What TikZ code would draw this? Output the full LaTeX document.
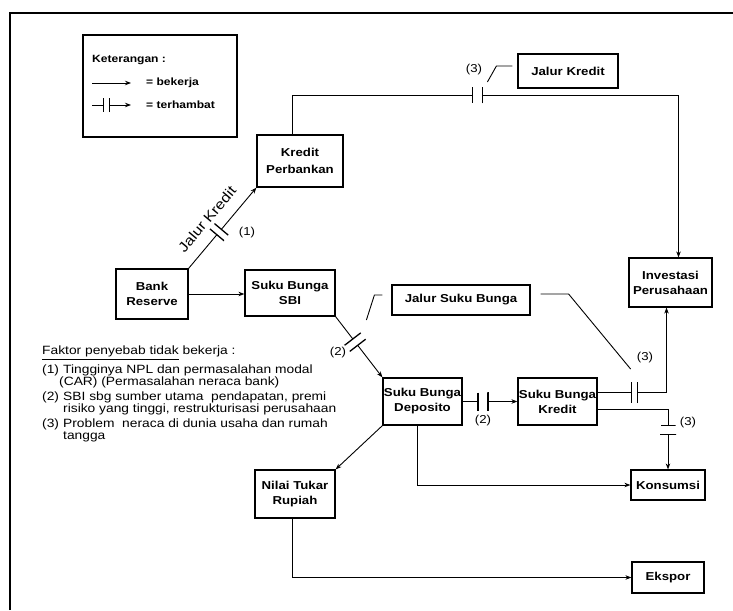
\documentclass[tikz,border=0pt]{standalone}
\usepackage{fontspec}
\setmainfont{Liberation Sans}[FakeStretch=1.15]
\usetikzlibrary{calc, arrows.meta, positioning}

\newcommand\kotak[6]{%
    \node (#1) [kotak, minimum width=#4pt, minimum height=#5pt] at (#2,#3) {#6};
}
\newcommand\nomor[3]{%
    \node (#1) [inner sep=0] at (#2) {#3};
}

\begin{document}
\begin{tikzpicture}[x=1pt, y=-1pt,
    font=\fontsize{11.5}{15}\selectfont,
    kotak/.style={draw, line width=1.2pt, inner sep=0, align=center, font=\fontsize{11.5}{15}\selectfont\bfseries},
    panah/.style={line width=0.9pt, -{Stealth[length=6pt, width=4.5pt]}},
    garis/.style={line width=0.9pt},
    % two bars across a line: gap #1, bar length #2
    hambat/.style 2 args={sloped, inner sep=0, outer sep=0, minimum width=#1, minimum height=#2,
        fill=white, draw, line width=1.3pt, dash pattern=on 0pt off #1 on #2 off #1 on #2}]

\useasboundingbox (0,0) rectangle (733,610);

% Frame
\draw [line width=1.3pt] (10,610) -- (10,13) -- (733,13);

% Legend
\kotak{legenda}{160}{86}{154}{102}{}
\node [anchor=base west, inner sep=0, font=\fontsize{10.5}{12}\selectfont\bfseries] (ket) at (92,63) {Keterangan :};
\draw [panah] (92,83) -- (131,83);
\node [anchor=west, inner sep=0, font=\fontsize{10.5}{12}\selectfont\bfseries] (ket1) at (146,83) {= bekerja};
\draw [panah] (92,105) -- node [hambat={6pt}{14pt}, pos=0.37] {} (131,105);
\node [anchor=west, inner sep=0, font=\fontsize{10.5}{12}\selectfont\bfseries] (ket2) at (146,105) {= terhambat};

% Boxes
\kotak{kredit}    {300}  {161}  {86} {52} {Kredit\\[2pt]Perbankan}
\kotak{jkredit}   {568}  {71}   {100}{34} {Jalur Kredit}
\kotak{investasi} {670.5}{282.5}{83} {49} {Investasi\\Perusahaan}
\kotak{bank}      {152}  {294}  {72} {50} {Bank\\Reserve}
\kotak{sbi}       {290}  {293}  {90} {46} {Suku Bunga\\SBI}
\kotak{jsuku}     {461}  {300}  {138}{30} {Jalur Suku Bunga}
\kotak{deposito}  {422.5}{401.5}{79} {47} {Suku Bunga\\Deposito}
\kotak{kredit2}   {557.5}{401.5}{79} {47} {Suku Bunga\\Kredit}
\kotak{konsumsi}  {668}  {485}  {74} {30} {Konsumsi}
\kotak{nilai}     {295}  {494}  {80} {48} {Nilai Tukar\\Rupiah}
\kotak{ekspor}    {668}  {577.5}{72} {31} {Ekspor}

% Jalur kredit
\draw [panah] (bank.north east) -- node [hambat={7pt}{18pt}, pos=0.45] {}
    node [pos=0.47, sloped, above=12pt, inner sep=0, font=\fontsize{14}{16}\selectfont] (jk) {Jalur Kredit} (kredit.south west);
\draw [panah] ([xshift=-8pt]kredit.north) -- ++(0,-39) -| node [hambat={10pt}{16pt}, pos=0.24] {} ([xshift=8pt]investasi.north);
\draw [garis] ([xshift=-5pt, yshift=5pt]jkredit.west) -- ++(-16,0) -- ++(-9,16);

% Jalur suku bunga
\draw [panah] (bank.east) -- (bank.east -| sbi.west);
\draw [panah] (sbi.south east) -- node [hambat={8pt}{20pt}, pos=0.42] {} (deposito.north west);
\draw [panah] (deposito) -- node [hambat={10pt}{18pt}, pos=0.37] {} (kredit2);
\draw [panah] ([yshift=9pt]kredit2.east) -| node [hambat={6pt}{21pt}, pos=0.27] {} ([xshift=-4pt]investasi.south);
\draw [panah] ([yshift=-8pt]kredit2.east) -| node [hambat={9pt}{15pt}, pos=0.67] {} (konsumsi.north);
\draw [panah] ([xshift=-5pt]deposito.south) |- (konsumsi.west);
\draw [panah] (deposito.south west) -- (nilai.north east);
\draw [panah] ([xshift=-3pt]nilai.south) |- (ekspor.west);
\draw [garis] ([xshift=-9pt, yshift=5pt]jsuku.west) -- ++(-8,0) -- ++(-8,25);
\draw [garis] ([xshift=10pt, yshift=6pt]jsuku.east) -- ++(28,0) -- ++(62,75);

% Numbers
\nomor{n1} {247,233}{(1)}
\nomor{n2a}{338,353}{(2)}
\nomor{n2b}{483,421}{(2)}
\nomor{n3a}{474,70} {(3)}
\nomor{n3b}{645,358}{(3)}
\nomor{n3c}{688,423}{(3)}

% Faktor
\node [anchor=north west, inner sep=0, align=left, font=\fontsize{12}{12}\selectfont] (faktor) at (42,346) {%
    \underline{Faktor penyebab tidak} bekerja :\\[4pt]
    \makebox[21pt][l]{(1)}Tingginya NPL dan permasalahan modal\\
    \hspace*{17pt}(CAR) (Permasalahan neraca bank)\\[3pt]
    \makebox[21pt][l]{(2)}SBI sbg sumber utama\ \ pendapatan, premi\\
    \hspace*{21pt}risiko yang tinggi, restrukturisasi perusahaan\\[3pt]
    \makebox[21pt][l]{(3)}Problem\ \ neraca di dunia usaha dan rumah\\
    \hspace*{21pt}tangga};

\end{tikzpicture}
\end{document}
